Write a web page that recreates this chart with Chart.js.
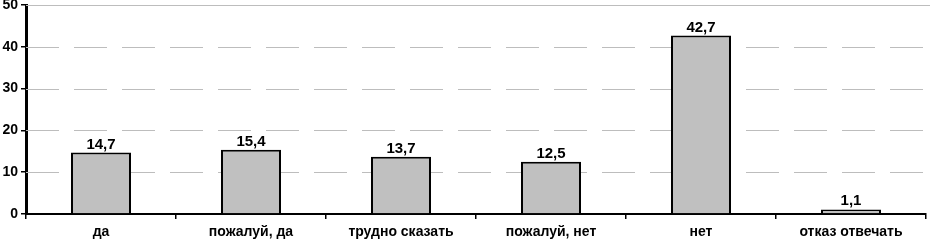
<!DOCTYPE html>
<html>
<head>
<meta charset="utf-8">
<script src="https://cdn.jsdelivr.net/npm/chart.js@4.4.0/dist/chart.umd.min.js"></script>
<style>
  html, body { margin: 0; padding: 0; background: #fff; }
  #wrap { width: 930px; height: 243px; position: relative; }
</style>
</head>
<body>
<div id="wrap"><canvas id="barChart"></canvas></div>
<script>
// Answers and shares, %
const categories = ['да', 'пожалуй, да', 'трудно сказать', 'пожалуй, нет', 'нет', 'отказ отвечать'];
const values = [14.7, 15.4, 13.7, 12.5, 42.7, 1.1];
const yTicks = [0, 10, 20, 30, 40, 50];

const FONT = '"Liberation Sans", Arial, sans-serif';

// Dashed grey grid lines, solid line on top
const gridPlugin = {
    id: 'dashedGrid',
    beforeDatasetsDraw(chart) {
        const { ctx, chartArea, scales } = chart;
        ctx.save();
        ctx.strokeStyle = '#bdbdbd';
        ctx.lineWidth = 1;
        yTicks.forEach(v => {
            if (v === 0) return;
            const y = Math.round(scales.y.getPixelForValue(v)) + 0.5;
            ctx.setLineDash(v === 50 ? [] : [33, 15]);
            ctx.beginPath();
            ctx.moveTo(chartArea.left, y);
            ctx.lineTo(v === 50 ? chart.width : chartArea.right, y);
            ctx.stroke();
        });
        ctx.restore();
    }
};

// Value labels above bars, comma decimal
const labelPlugin = {
    id: 'valueLabels',
    afterDatasetsDraw(chart) {
        const { ctx } = chart;
        const meta = chart.getDatasetMeta(0);
        ctx.save();
        ctx.fillStyle = '#000';
        ctx.font = 'bold 15px ' + FONT;
        ctx.textAlign = 'center';
        ctx.textBaseline = 'alphabetic';
        meta.data.forEach((bar, i) => {
            ctx.fillText(values[i].toFixed(1).replace('.', ','), bar.x, bar.y - 4);
        });
        ctx.restore();
    }
};

new Chart(document.getElementById('barChart'), {
    type: 'bar',
    data: {
        labels: categories,
        datasets: [{
            data: values,
            backgroundColor: '#c0c0c0',
            borderColor: '#000',
            borderWidth: 2,
            borderSkipped: 'bottom',
            barPercentage: 0.4,
            categoryPercentage: 1
        }]
    },
    options: {
        responsive: true,
        maintainAspectRatio: false,
        animation: false,
        layout: { padding: { top: 5, right: 4, left: 0, bottom: 0 } },
        plugins: {
            legend: { display: false },
            tooltip: { enabled: false }
        },
        scales: {
            x: {
                grid: { drawOnChartArea: false, drawTicks: true, tickLength: 5, color: '#000', lineWidth: 1.5 },
                border: { color: '#000', width: 2 },
                ticks: {
                    color: '#000',
                    padding: 5,
                    maxRotation: 0,
                    autoSkip: false,
                    font: { family: FONT, size: 14, weight: 'bold' }
                },
                afterFit(scale) { scale.height = 29; scale.paddingLeft = 0; scale.paddingRight = 0; }
            },
            y: {
                min: 0,
                max: 50,
                afterBuildTicks(scale) { scale.ticks = yTicks.map(v => ({ value: v })); },
                grid: { drawOnChartArea: false, drawTicks: true, tickLength: 5, color: '#000', lineWidth: 1.5 },
                border: { color: '#000', width: 3 },
                ticks: {
                    color: '#000',
                    padding: 3,
                    font: { family: FONT, size: 14, weight: 'bold' }
                },
                afterFit(scale) { scale.width = 26; scale.paddingTop = 0; scale.paddingBottom = 0; }
            }
        }
    },
    plugins: [gridPlugin, labelPlugin]
});
</script>
</body>
</html>
